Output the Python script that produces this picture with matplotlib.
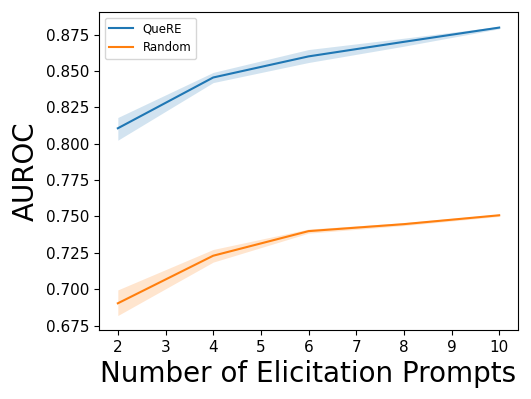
import numpy as np
import matplotlib.pyplot as plt

# number of prompts
n_prompts = [2, 4, 6, 8, 10]

# QueRE mean and band
quere_mean = [0.8106, 0.8455, 0.8600, 0.8700, 0.8798]
quere_lo = [0.8024, 0.8420, 0.8558, 0.8670, 0.8790]
quere_hi = [0.8180, 0.8490, 0.8647, 0.8725, 0.8806]

# Random mean and band
rand_mean = [0.6903, 0.7230, 0.7399, 0.7447, 0.7508]
rand_lo = [0.6819, 0.7186, 0.7385, 0.7437, 0.7500]
rand_hi = [0.6995, 0.7273, 0.7413, 0.7457, 0.7516]

fig = plt.figure(figsize=(5.31, 3.99), dpi=100)
ax = fig.add_axes([0.186, 0.173, 0.790, 0.797])

ax.plot(n_prompts, quere_mean, color='tab:blue', label='QueRE')
ax.fill_between(n_prompts, quere_lo, quere_hi, color='tab:blue', alpha=0.2, linewidth=0)
ax.plot(n_prompts, rand_mean, color='tab:orange', label='Random')
ax.fill_between(n_prompts, rand_lo, rand_hi, color='tab:orange', alpha=0.2, linewidth=0)

ax.set_xticks(range(2, 11))
ax.tick_params(labelsize=11)
ax.set_xlabel('Number of Elicitation Prompts', fontsize=20)
ax.set_ylabel('AUROC', fontsize=20)
ax.legend(loc='upper left', fontsize=8.5)

fig.savefig('out.png', dpi=100)
